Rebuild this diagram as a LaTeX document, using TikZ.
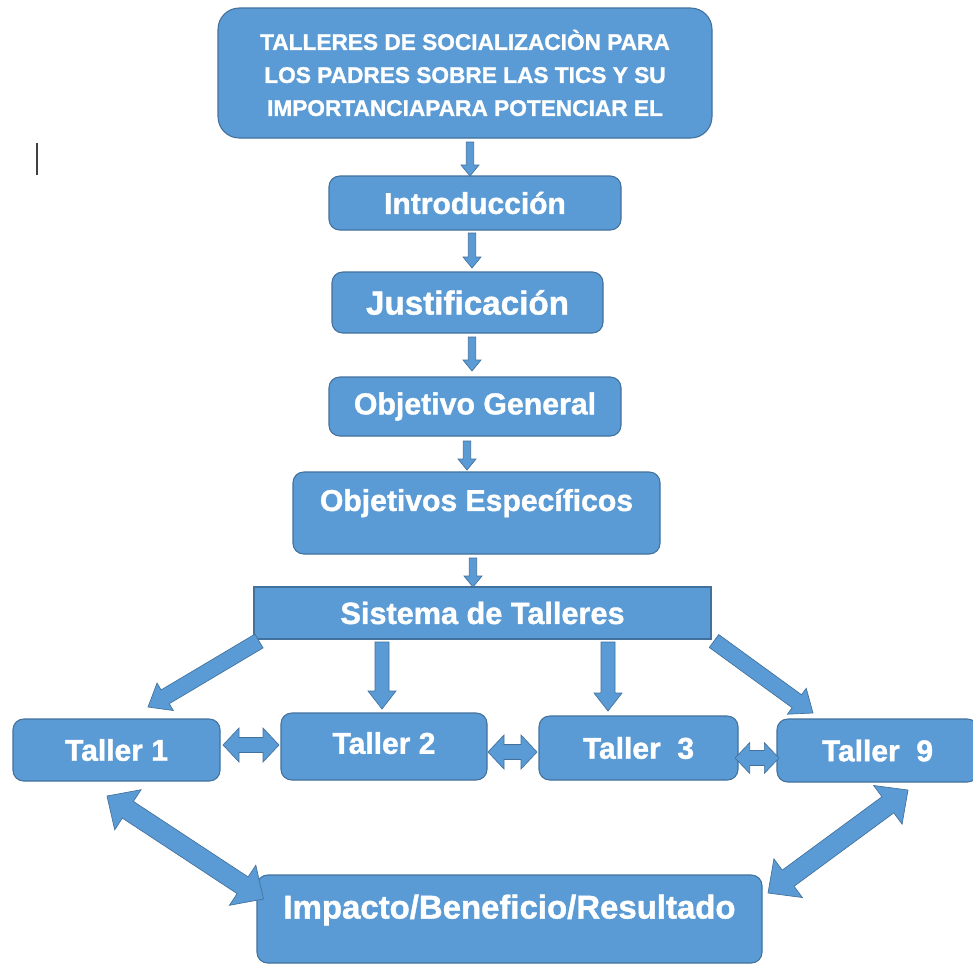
\documentclass[tikz,border=0pt]{standalone}
\usepackage{fontspec}
\setmainfont{Liberation Sans}[BoldFeatures={FakeBold=1.3}]
\usetikzlibrary{calc}
\definecolor{boxblue}{RGB}{91,155,213}
\definecolor{boxedge}{RGB}{65,113,156}
\newcommand{\sarrow}[5]{%
  \coordinate (sah) at ($(#2)!#5!(#1)$);
  \filldraw[arr] ($(#1)!#3!90:(#2)$) -- ($(sah)!#3!90:(#2)$) -- ($(sah)!#4!90:(#2)$) -- (#2) -- ($(sah)!#4!270:(#2)$) -- ($(sah)!#3!270:(#2)$) -- ($(#1)!#3!270:(#2)$) -- cycle;}
\newcommand{\darrow}[5]{%
  \coordinate (dah) at ($(#1)!#5!(#2)$);
  \coordinate (dak) at ($(#2)!#5!(#1)$);
  \filldraw[arr] (#1) -- ($(dah)!#4!90:(#2)$) -- ($(dah)!#3!90:(#2)$) -- ($(dak)!#3!90:(#2)$) -- ($(dak)!#4!90:(#2)$) -- (#2) -- ($(dak)!#4!270:(#2)$) -- ($(dak)!#3!270:(#2)$) -- ($(dah)!#3!270:(#2)$) -- ($(dah)!#4!270:(#2)$) -- cycle;}
\tikzset{
  box/.style={fill=boxblue, draw=boxedge, line width=0.8pt, rounded corners=8pt, inner sep=0pt, outer sep=0pt, text=white, font=\bfseries, align=center},
  flatbox/.style={box, rounded corners=0pt},
  arr/.style={fill=boxblue, draw=boxedge, line width=0.5pt, line join=miter},
  txt/.style={text=white, font=\bfseries, inner sep=0pt}
}
\begin{document}
\begin{tikzpicture}[x=0.75pt,y=-0.75pt]
\useasboundingbox (0,0) rectangle (973,965);
\fill[white] (0,0) rectangle (973,965);
% cursor mark
\draw[black!75, line width=1.4pt] (37,143) -- (37,175);
% nodes
\node[box, rounded corners=16pt, minimum width=370.5pt, minimum height=97.5pt, font=\bfseries\fontsize{17}{24.75}\selectfont] (top) at (465,73)
  {TALLERES DE SOCIALIZACIÒN PARA\\LOS PADRES SOBRE LAS TICS Y SU\\IMPORTANCIAPARA POTENCIAR EL};
\node[box, minimum width=219pt, minimum height=40.5pt, font=\bfseries\fontsize{22.5}{27}\selectfont] (intro) at (475,203) {Introducción};
\node[box, minimum width=203.25pt, minimum height=45.75pt, font=\bfseries\fontsize{24.9}{30}\selectfont] (just) at (467.5,302.5) {Justificación};
\node[box, minimum width=219pt, minimum height=44.25pt, font=\bfseries\fontsize{22.7}{27}\selectfont] (objg) at (475,406.5) {Objetivo General};
\node[box, minimum width=275.25pt, minimum height=61.5pt,
  label={[txt, yshift=7.5pt, font=\bfseries\fontsize{22.6}{27}\selectfont]center:Objetivos Específicos}] (obje) at (476.5,513) {};
\node[flatbox, minimum width=342.75pt, minimum height=39pt, font=\bfseries\fontsize{23}{27}\selectfont] (sis) at (482.5,613) {Sistema de Talleres};
\node[box, minimum width=155.25pt, minimum height=46.5pt, font=\bfseries\fontsize{22.5}{27}\selectfont] (t1) at (116.5,750) {Taller 1};
\node[box, minimum width=154.5pt, minimum height=50.25pt,
  label={[txt, yshift=2.6pt, font=\bfseries\fontsize{22.5}{27}\selectfont]center:Taller 2}] (t2) at (384,746.5) {};
\node[box, minimum width=149.25pt, minimum height=48pt, font=\bfseries\fontsize{22.5}{27}\selectfont] (t3) at (638.5,748) {Taller\ \ 3};
\node[box, minimum width=150.75pt, minimum height=47.25pt, font=\bfseries\fontsize{22.5}{27}\selectfont] (t9) at (877.5,750.5) {Taller\ \ 9};
\node[box, minimum width=378.75pt, minimum height=66pt,
  label={[txt, yshift=6.75pt, font=\bfseries\fontsize{24.7}{29}\selectfont]center:Impacto/Beneficio/Resultado}] (imp) at (509.5,919) {};
% chain arrows
\coordinate (a1s) at ($(top.south)+(5,4)$);
\coordinate (a1t) at (a1s |- intro.north);
\sarrow{a1s}{a1t}{2.8pt}{6.75pt}{8.25pt}
\coordinate (a2s) at ($(intro.south)+(-3,3)$);
\coordinate (a2t) at ($(a2s |- just.north)+(0,-4)$);
\sarrow{a2s}{a2t}{2.8pt}{6.75pt}{8.25pt}
\coordinate (a3s) at ($(just.south)+(4.5,4)$);
\coordinate (a3t) at ($(a3s |- objg.north)+(0,-6)$);
\sarrow{a3s}{a3t}{2.8pt}{6.75pt}{8.25pt}
\coordinate (a4s) at ($(objg.south)+(-8,5)$);
\coordinate (a4t) at ($(a4s |- obje.north)+(0,-2)$);
\sarrow{a4s}{a4t}{2.8pt}{6.75pt}{8.25pt}
\coordinate (a5s) at ($(obje.south)+(-3.5,4)$);
\coordinate (a5t) at (a5s |- sis.north);
\sarrow{a5s}{a5t}{2.8pt}{6.75pt}{8.25pt}
% sistema arrows
\coordinate (a6s) at ($(sis.south west)+(5,2)$);
\coordinate (a6t) at ($(t1.north)+(31.5,-12)$);
\sarrow{a6s}{a6t}{6pt}{12pt}{15pt}
\coordinate (a7s) at ($(sis.south)+(-100.5,3)$);
\coordinate (a7t) at ($(t2.north)+(-2,-4)$);
\sarrow{a7s}{a7t}{5.25pt}{10.5pt}{13.5pt}
\coordinate (a8s) at ($(sis.south)+(125.5,3)$);
\coordinate (a8t) at ($(t3.north)+(-30.5,-5)$);
\sarrow{a8s}{a8t}{5.25pt}{10.5pt}{13.5pt}
\coordinate (a9s) at ($(sis.south east)+(3,2)$);
\coordinate (a9t) at ($(t9.north west)+(36,-6)$);
\sarrow{a9s}{a9t}{6pt}{12pt}{15pt}
% horizontal double arrows
\coordinate (d1a) at ($(t1.east)+(3,-5)$);
\coordinate (d1b) at ($(d1a -| t2.west)+(-2,0)$);
\darrow{d1a}{d1b}{5.6pt}{12.75pt}{12pt}
\coordinate (d2a) at ($(t2.east)+(1,5.5)$);
\coordinate (d2b) at ($(d2a -| t3.west)+(-2,0)$);
\darrow{d2a}{d2b}{5.6pt}{12.75pt}{12pt}
\coordinate (d3a) at ($(t3.east)+(-3,10)$);
\coordinate (d3b) at ($(d3a -| t9.west)+(2,0)$);
\darrow{d3a}{d3b}{5.6pt}{11.5pt}{11pt}
% big double arrows
\coordinate (d4a) at ($(t1.south)+(-9.5,15)$);
\coordinate (d4b) at ($(imp.west)+(6.5,-20)$);
\darrow{d4a}{d4b}{7.5pt}{18pt}{18.75pt}
\coordinate (d5a) at ($(t9.south)+(30.5,8)$);
\coordinate (d5b) at ($(imp.east)+(6,-26)$);
\darrow{d5a}{d5b}{7.5pt}{18pt}{18.75pt}
\end{tikzpicture}
\end{document}
